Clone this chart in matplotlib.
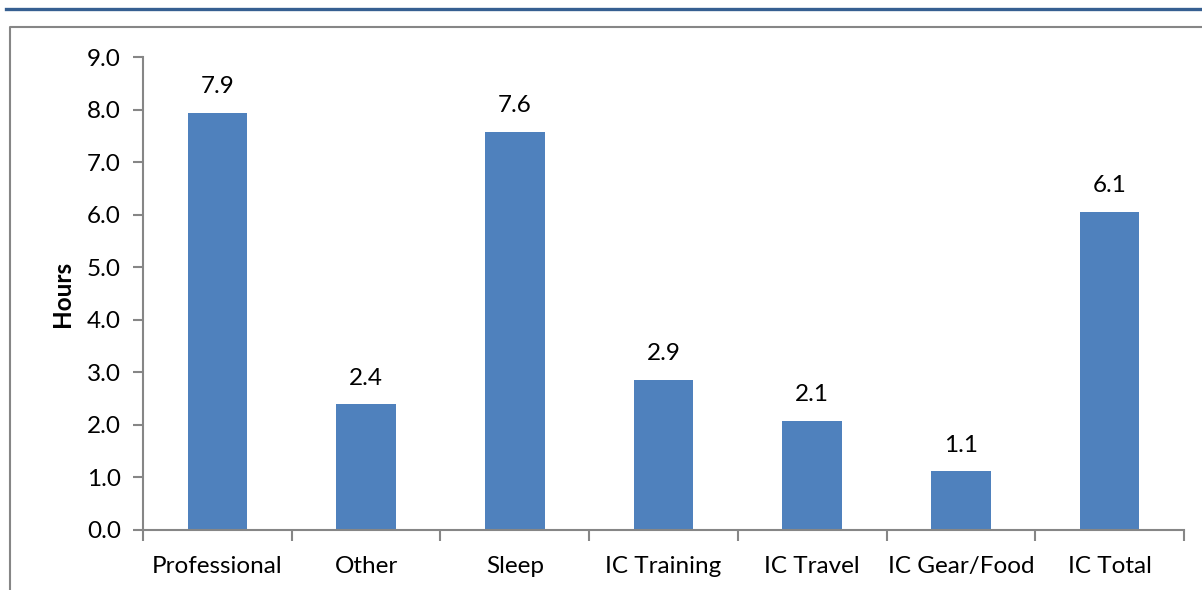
import matplotlib
matplotlib.use("Agg")
import matplotlib.pyplot as plt
from matplotlib.lines import Line2D

plt.rcParams['font.family'] = ['Lato', 'DejaVu Sans']

# datos del grafico
categorias = ["Professional", "Other", "Sleep", "IC Training", "IC Travel", "IC Gear/Food", "IC Total"]
horas = [7.94, 2.40, 7.58, 2.86, 2.08, 1.12, 6.06]
yticks = [0.0, 1.0, 2.0, 3.0, 4.0, 5.0, 6.0, 7.0, 8.0, 9.0]

azul = "#4F81BD"
gris = "#868686"
fs = 17.5

fig = plt.figure(figsize=(12.02, 5.90), dpi=100)
ax = fig.add_axes([143/1202, 1 - 530/590, (1184 - 143)/1202, (530 - 57)/590])

x = list(range(len(categorias)))
ax.bar(x, horas, width=0.40, color=azul, zorder=2)

# etiquetas sobre las barras
for xi, h in zip(x, horas):
    ax.annotate(f"{h:.1f}", (xi, h), xytext=(0, 11), textcoords="offset points",
                ha="center", va="bottom", fontsize=fs)

ax.set_xlim(-0.5, len(categorias) - 0.5)
ax.set_ylim(0, 9)
ax.set_yticks(yticks)
ax.set_yticklabels([f"{v:.1f}" for v in yticks], fontsize=fs)
ax.set_xticks(x)
ax.set_xticklabels(categorias, fontsize=fs)
ax.tick_params(axis="x", length=0, pad=19)
ax.set_xticks([i - 0.5 for i in range(len(categorias) + 1)], minor=True)
ax.tick_params(axis="x", which="minor", length=8, color=gris, width=1.5, direction="out")
ax.tick_params(axis="y", length=7, color=gris, width=1.5, direction="out", pad=9)

for s in ["top", "right"]:
    ax.spines[s].set_visible(False)
for s in ["left", "bottom"]:
    ax.spines[s].set_color(gris)
    ax.spines[s].set_linewidth(1.5)

ax.set_ylabel("Hours", fontsize=fs, fontweight="bold", labelpad=9)

# linea azul superior y marco gris
fig.add_artist(Line2D([6/1202, 1], [1 - 8.5/590, 1 - 8.5/590], color="#365F91", lw=2.4))
fig.add_artist(Line2D([10/1202, 10/1202, 1], [0, 1 - 27/590, 1 - 27/590], color=gris, lw=1.5))

fig.savefig("out.png", dpi=100)
